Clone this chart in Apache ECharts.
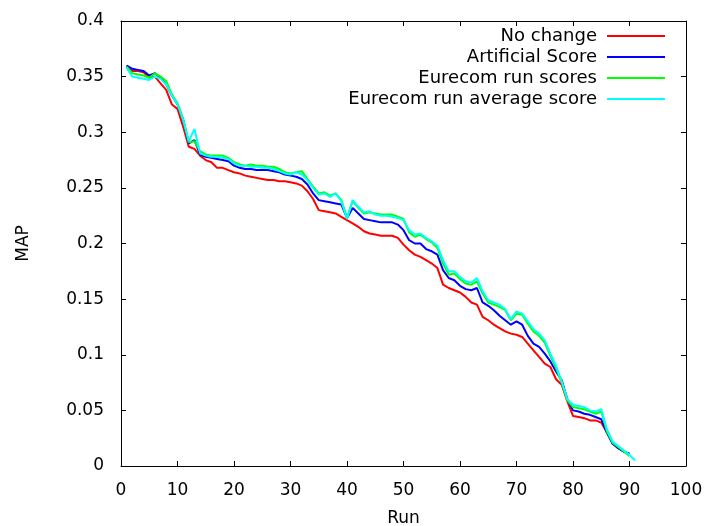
<!DOCTYPE html>
<html>
<head>
<meta charset="utf-8">
<script src="https://cdn.jsdelivr.net/npm/echarts@6/dist/echarts.min.js"></script>
<style>
html,body{margin:0;padding:0;background:#fff;}
#chart{width:706px;height:526px;}
</style>
</head>
<body>
<div id="chart"></div>
<script>
var seriesNames = ["No change", "Artificial Score", "Eurecom run scores", "Eurecom run average score"];
var noChange = [0.360,0.355,0.355,0.354,0.349,0.350,0.344,0.338,0.325,0.321,0.305,0.287,0.285,0.279,0.275,0.273,0.268,0.268,0.266,0.264,0.263,0.261,0.260,0.259,0.258,0.257,0.257,0.256,0.256,0.255,0.254,0.252,0.247,0.240,0.230,0.229,0.228,0.227,0.224,0.221,0.218,0.215,0.211,0.209,0.208,0.207,0.207,0.207,0.205,0.199,0.194,0.190,0.188,0.185,0.182,0.178,0.163,0.160,0.158,0.156,0.152,0.147,0.145,0.134,0.131,0.127,0.124,0.121,0.119,0.118,0.116,0.110,0.104,0.098,0.092,0.089,0.078,0.073,0.058,0.045,0.044,0.043,0.041,0.041,0.039,0.030,0.021,0.016,0.013,0.010];
var artificialScore = [0.360,0.357,0.356,0.355,0.351,0.353,0.349,0.343,0.333,0.325,0.311,0.290,0.293,0.280,0.278,0.277,0.276,0.275,0.274,0.270,0.268,0.267,0.267,0.266,0.266,0.266,0.265,0.264,0.262,0.261,0.260,0.258,0.253,0.245,0.239,0.238,0.237,0.236,0.235,0.223,0.232,0.227,0.222,0.221,0.220,0.219,0.219,0.219,0.217,0.212,0.203,0.200,0.200,0.195,0.193,0.190,0.176,0.169,0.167,0.162,0.159,0.158,0.160,0.147,0.144,0.140,0.135,0.131,0.127,0.130,0.127,0.117,0.110,0.107,0.101,0.094,0.085,0.077,0.060,0.050,0.049,0.047,0.046,0.044,0.042,0.030,0.020,0.016,0.013,0.011];
var eurecomRun = [0.359,0.353,0.352,0.351,0.349,0.353,0.350,0.346,0.334,0.326,0.312,0.291,0.292,0.283,0.280,0.279,0.279,0.279,0.277,0.273,0.271,0.270,0.271,0.270,0.270,0.269,0.269,0.267,0.264,0.263,0.264,0.265,0.258,0.251,0.245,0.246,0.243,0.245,0.239,0.223,0.238,0.232,0.227,0.228,0.227,0.226,0.226,0.226,0.224,0.222,0.210,0.206,0.208,0.204,0.201,0.196,0.182,0.172,0.173,0.168,0.164,0.163,0.166,0.155,0.147,0.145,0.143,0.140,0.131,0.137,0.136,0.128,0.121,0.117,0.111,0.099,0.088,0.075,0.059,0.053,0.052,0.051,0.049,0.047,0.049,0.031,0.021,0.017,0.013,0.009];
var eurecomAvg = [0.358,0.350,0.349,0.348,0.347,0.350,0.348,0.343,0.333,0.325,0.311,0.292,0.303,0.281,0.279,0.278,0.278,0.277,0.276,0.272,0.270,0.270,0.269,0.269,0.268,0.268,0.267,0.265,0.263,0.262,0.264,0.262,0.257,0.250,0.244,0.245,0.242,0.245,0.238,0.222,0.239,0.233,0.228,0.229,0.226,0.225,0.225,0.224,0.223,0.221,0.212,0.208,0.209,0.205,0.202,0.198,0.185,0.175,0.175,0.170,0.166,0.165,0.169,0.157,0.149,0.147,0.145,0.141,0.132,0.139,0.137,0.130,0.123,0.119,0.113,0.101,0.090,0.076,0.060,0.055,0.054,0.053,0.050,0.049,0.051,0.033,0.022,0.018,0.014,0.010,0.005];
var colors = ["#ff0000", "#0000ff", "#00ff00", "#00ffff"];
var xTicks = [0,10,20,30,40,50,60,70,80,90,100];
var yTicks = [0,0.05,0.1,0.15,0.2,0.25,0.3,0.35,0.4];

function toPairs(arr){ return arr.map(function(v,i){ return [i+1, v]; }); }

var FONT = "DejaVu Sans";
var chart = echarts.init(document.getElementById('chart'), null, {renderer:'canvas'});
var allData = [noChange, artificialScore, eurecomRun, eurecomAvg];
var axisLine = {show:true, onZero:false, lineStyle:{color:'#000', width:1}};
var tick = {show:true, inside:true, length:5, lineStyle:{color:'#000', width:1}};
chart.setOption({
  animation:false,
  backgroundColor:'#fff',
  grid:{left:121, right:20, top:21, bottom:60, containLabel:false, outerBoundsMode:'none'},
  legend:{
    orient:'vertical', right:41, top:27, align:'right', padding:0,
    icon:'rect', itemWidth:58, itemHeight:2, itemGap:3,
    textStyle:{fontFamily:FONT, fontSize:18, color:'#000', lineHeight:18, padding:[0,5,0,0]},
    data:seriesNames
  },
  xAxis:[{
    type:'value', min:0, max:100, interval:10, position:'bottom',
    name:'Run', nameLocation:'middle', nameGap:44,
    nameTextStyle:{fontFamily:FONT, fontSize:17, color:'#000'},
    axisLine:axisLine, axisTick:tick, splitLine:{show:false},
    axisLabel:{fontFamily:FONT, fontSize:17, color:'#000', margin:16,
      formatter:function(v){ return xTicks.indexOf(v) >= 0 ? String(v) : ''; }}
  },{
    type:'value', min:0, max:100, interval:10, position:'top',
    axisLine:axisLine, axisTick:tick, splitLine:{show:false}, axisLabel:{show:false}
  }],
  yAxis:[{
    type:'value', min:0, max:0.4, interval:0.05, position:'left',
    name:'MAP', nameLocation:'middle', nameGap:89, nameRotate:90,
    nameTextStyle:{fontFamily:FONT, fontSize:17, color:'#000'},
    axisLine:axisLine, axisTick:tick, splitLine:{show:false},
    axisLabel:{fontFamily:FONT, fontSize:17, color:'#000', margin:17,
      formatter:function(v){ var r = Math.round(v*100)/100; for (var i=0;i<yTicks.length;i++){ if (Math.abs(yTicks[i]-r)<1e-9) return String(yTicks[i]); } return ''; }}
  },{
    type:'value', min:0, max:0.4, interval:0.05, position:'right',
    axisLine:axisLine, axisTick:tick, splitLine:{show:false}, axisLabel:{show:false}
  }],
  series: allData.map(function(arr, i){
    return {
      name:seriesNames[i], type:'line', data:toPairs(arr),
      showSymbol:false, symbol:'none',
      lineStyle:{color:colors[i], width:2}, itemStyle:{color:colors[i]},
      xAxisIndex:0, yAxisIndex:0
    };
  })
});
</script>
</body>
</html>
